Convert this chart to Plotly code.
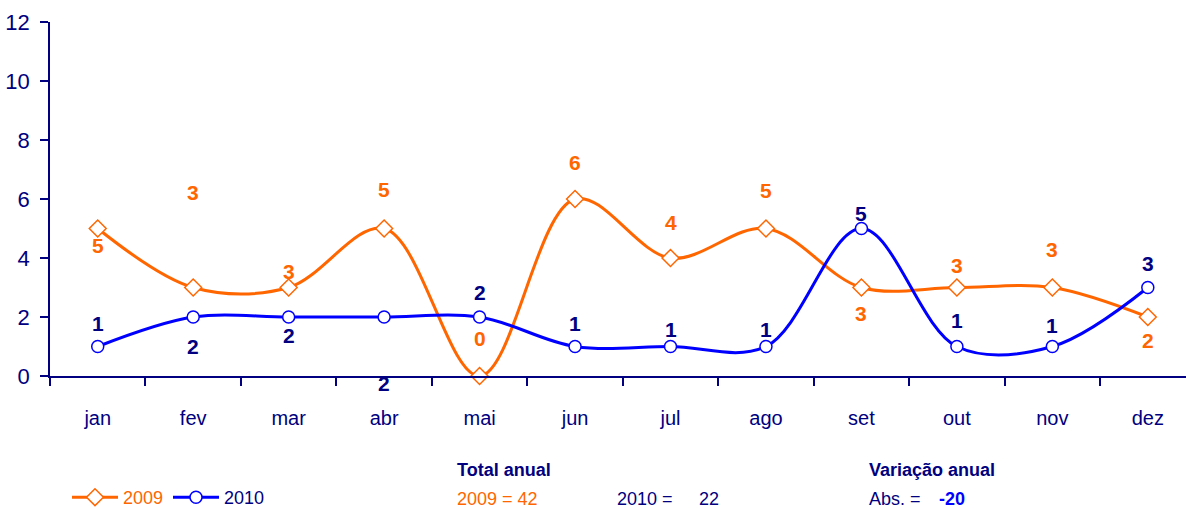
import plotly.graph_objects as go

months = ["jan", "fev", "mar", "abr", "mai", "jun", "jul", "ago", "set", "out", "nov", "dez"]
v2009 = [5, 3, 3, 5, 0, 6, 4, 5, 3, 3, 3, 2]
v2010 = [1, 2, 2, 2, 2, 1, 1, 1, 5, 1, 1, 3]
y_ticks = [0, 2, 4, 6, 8, 10, 12]

ORANGE = "#FF6600"
BLUE = "#0000FF"
NAVY = "#000080"
FONT = "Liberation Sans, Arial, sans-serif"

# label vertical offsets in pixels (style only)
shift2009 = [-17, 95, 16, 39, 38, 37, 36, 38, -26, 22, 38, -23]
shift2010 = [23, -29, -18, -66, 25, 23, 17, 17, 15, 26, 21, 24]

fig = go.Figure()
fig.add_trace(go.Scatter(
    x=months, y=v2009, mode="lines+markers", name="<span style='color:%s'>2009</span>" % ORANGE,
    line=dict(color=ORANGE, width=3, shape="spline", smoothing=1.0),
    marker=dict(symbol="diamond", size=13, color="white", line=dict(color=ORANGE, width=1.5)),
    cliponaxis=False,
))
fig.add_trace(go.Scatter(
    x=months, y=v2010, mode="lines+markers", name="<span style='color:%s'>2010</span>" % NAVY,
    line=dict(color=BLUE, width=3, shape="spline", smoothing=1.0),
    marker=dict(symbol="circle", size=12, color="white", line=dict(color=BLUE, width=1.5)),
    cliponaxis=False,
))

annotations = []
for m, v, s in zip(months, v2009, shift2009):
    annotations.append(dict(x=m, y=v, xref="x", yref="y", text="<b>%d</b>" % v, showarrow=False,
                            yshift=s, font=dict(family=FONT, size=21, color=ORANGE)))
for m, v, s in zip(months, v2010, shift2010):
    annotations.append(dict(x=m, y=v, xref="x", yref="y", text="<b>%d</b>" % v, showarrow=False,
                            yshift=s, font=dict(family=FONT, size=21, color=NAVY)))

W, H = 1186, 508
L, PW, B, PH = 50, 1136, 376, 354
def px(xp):
    return (xp - L) / PW
def py(yp):
    return (B - yp) / PH

total09 = sum(v2009)
total10 = sum(v2010)
diff = total10 - total09

texts = [
    ("<b>Total anual</b>", 455, 470, NAVY),
    ("%d = %d" % (2009, total09), 455, 499, ORANGE),
    ("2010 =", 615, 499, NAVY),
    ("%d" % total10, 697, 499, NAVY),
    ("<b>Variação anual</b>", 867, 470, NAVY),
    ("Abs. =", 867, 499, NAVY),
    ("<b>%d</b>" % diff, 937, 499, BLUE),
]
for t, xp, yp, c in texts:
    annotations.append(dict(x=px(xp), y=py(yp), xref="paper", yref="paper", text=t, showarrow=False,
                            xanchor="left", yanchor="middle",
                            font=dict(family=FONT, size=18, color=c)))

fig.update_layout(
    width=W, height=H,
    margin=dict(l=L, r=0, t=22, b=132, autoexpand=False),
    paper_bgcolor="white", plot_bgcolor="white",
    showlegend=True,
    legend=dict(orientation="h", x=px(67), y=py(479), xanchor="left", yanchor="top",
                font=dict(family=FONT, size=18, color=NAVY), bgcolor="rgba(0,0,0,0)",
                itemwidth=46, tracegroupgap=0, entrywidth=40),
    annotations=annotations,
    xaxis=dict(range=[-0.5, 11.4], showgrid=False, showline=True, linecolor=NAVY, linewidth=1.5,
               ticks="outside", tickson="boundaries", ticklen=8, tickcolor=NAVY, tickwidth=1.5,
               tickfont=dict(family=FONT, size=20, color=NAVY), zeroline=False,
               automargin=False, ticklabelstandoff=23),
    yaxis=dict(range=[0, 12], tickvals=y_ticks, showgrid=False, showline=True, linecolor=NAVY,
               linewidth=1.5, ticks="outside", ticklen=8, tickcolor=NAVY, tickwidth=1.5,
               tickfont=dict(family=FONT, size=22, color=NAVY), zeroline=False,
               automargin=False, ticklabelstandoff=6),
)

fig.write_html("out.html", config={"displayModeBar": False},
               post_script="document.body.style.margin='0';")
